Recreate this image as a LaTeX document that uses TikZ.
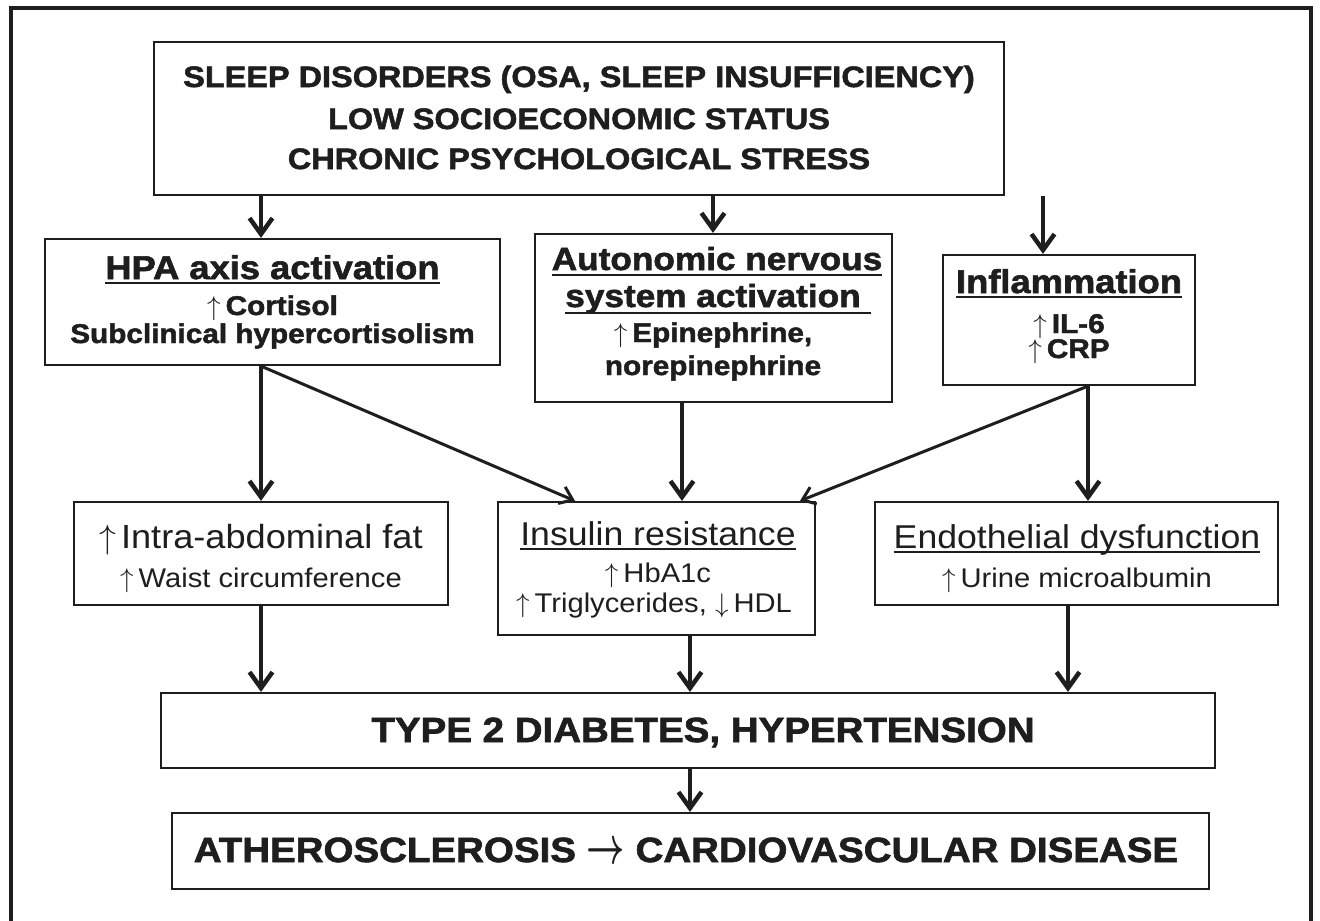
\documentclass[tikz,border=0pt]{standalone}
\usepackage{fix-cm}
\usepackage{graphicx}
\usepackage{fontspec}
\setmainfont{Liberation Sans}
\newfontfamily\hb[FakeStretch=1.1,FakeBold=1.8]{Liberation Sans}
\newfontfamily\hr[FakeStretch=1.08]{Liberation Sans}
\usetikzlibrary{arrows.meta}
\definecolor{ink}{RGB}{30,30,30}
\newcommand\fsz[1]{\fontsize{#1}{#1}\selectfont}
\newcommand\up{$\uparrow$\kern5pt}
\newcommand\dn{$\downarrow$\kern5pt}
\newcommand\ra{{\boldmath\raisebox{-1pt}{\scalebox{0.95}[1.5]{$\rightarrow$}}}}
\tikzset{
  box/.style={draw=ink, line width=2.2pt, inner sep=0pt, fill=none},
  txt/.style={anchor=base, inner sep=0pt, text=ink},
  bt/.style={txt, font=\hb\bfseries\fsz{#1}},
  rt/.style={txt, font=\hr\fsz{#1}},
  ul/.style={draw=ink, line width=2.2pt},
  varr/.style={draw=ink, line width=4.5pt, -{Straight Barb[length=16pt,width=23pt]}},
  darr/.style={draw=ink, line width=3pt, -{Straight Barb[length=12pt,width=18pt]}},
}
\begin{document}
\begin{tikzpicture}[x=1pt,y=-1pt]
\clip (0,0) rectangle (1320,921);
\fill[white] (0,0) rectangle (1320,921);
\draw[ink, line width=3.2pt] (11,8) rectangle (1311,960);

% boxes
\node[box, minimum width=850pt, minimum height=153pt] (top) at (579,118.5) {};
\node[box, minimum width=455pt, minimum height=126pt] (hpa) at (272.5,302) {};
\node[box, minimum width=357pt, minimum height=168pt] (ans) at (713.5,318) {};
\node[box, minimum width=252pt, minimum height=130pt] (infl) at (1069,320) {};
\node[box, minimum width=374pt, minimum height=103pt] (intra) at (261,553.5) {};
\node[box, minimum width=317pt, minimum height=133pt] (ins) at (656.5,568.5) {};
\node[box, minimum width=403pt, minimum height=103pt] (endo) at (1076.5,553.5) {};
\node[box, minimum width=1054pt, minimum height=75pt] (t2d) at (688,730.5) {};
\node[box, minimum width=1037pt, minimum height=76pt] (ath) at (690.5,851) {};

% top texts
\node[bt=29.5] (top1) at (579,87) {SLEEP DISORDERS (OSA, SLEEP INSUFFICIENCY)};
\node[bt=29.5] (top2) at (579,129) {LOW SOCIOECONOMIC STATUS};
\node[bt=29.5] (top3) at (579,169) {CHRONIC PSYCHOLOGICAL STRESS};

% HPA
\node[bt=33] (hpa1) at (272.5,279) {HPA axis activation};
\node[bt=27] (hpa2) at (272.5,315) {\up Cortisol};
\node[bt=27] (hpa3) at (272.5,343) {Subclinical hypercortisolism};
\draw[ul] ([yshift=-4pt]hpa1.base west) -- ([yshift=-4pt]hpa1.base east);

% ANS
\node[bt=32] (ans1) at (717,270) {Autonomic nervous};
\node[bt=32] (ans2) at (713,307) {system activation};
\node[bt=27] (ans3) at (713,342) {\up Epinephrine,};
\node[bt=27] (ans4) at (713,375) {norepinephrine};
\draw[ul] ([yshift=-5pt]ans1.base west) -- ([yshift=-5pt]ans1.base east);
\draw[ul] ([yshift=-6pt]ans2.base west) -- ([yshift=-6pt,xshift=10pt]ans2.base east);

% Inflammation
\node[bt=33] (inf1) at (1069,293) {Inflammation};
\node[bt=27] (inf2) at (1069,333) {\up IL-6};
\node[bt=27] (inf3) at (1069,358) {\up CRP};
\draw[ul] ([yshift=-4pt]inf1.base west) -- ([yshift=-4pt]inf1.base east);

% Intra-abdominal
\node[rt=33.5] (int1) at (261,548) {\up Intra-abdominal fat};
\node[rt=27] (int2) at (261,587) {\up Waist circumference};

% Insulin
\node[rt=33] (ins1) at (658,545) {Insulin resistance};
\node[rt=27] (ins2) at (658,582) {\up HbA1c};
\node[rt=27] (ins3) at (654,612) {\up Triglycerides, \dn HDL};
\draw[ul] ([yshift=-4pt]ins1.base west) -- ([yshift=-4pt]ins1.base east);

% Endothelial
\node[rt=33] (end1) at (1077,548) {Endothelial dysfunction};
\node[rt=27] (end2) at (1077,587) {\up Urine microalbumin};
\draw[ul] ([yshift=-4pt]end1.base west) -- ([yshift=-4pt]end1.base east);

% bottom
\node[bt=35] (t2dt) at (703,742) {TYPE 2 DIABETES, HYPERTENSION};
\node[bt=35] (atht) at (686,862) {ATHEROSCLEROSIS \ra\ CARDIOVASCULAR DISEASE};

% columns
\coordinate (xa) at (261,0);
\coordinate (xb) at (713,0);
\coordinate (xc) at (1043,0);
\coordinate (xd) at (682,0);
\coordinate (xe) at (1088,0);
\coordinate (xf) at (690,0);
\coordinate (xg) at (1068,0);
\coordinate (xh) at (575,0);
\coordinate (xi) at (800,0);

% arrows
\draw[varr] (top.south -| xa) -- (hpa.north -| xa);
\draw[varr] (top.south -| xb) -- (ans.north -| xb);
\draw[varr] (top.south -| xc) -- (infl.north -| xc);
\draw[varr] (hpa.south -| xa) -- (intra.north -| xa);
\draw[darr] (hpa.south -| xa) -- (ins.north -| xh);
\draw[varr] (ans.south -| xd) -- (ins.north -| xd);
\draw[varr] (infl.south -| xe) -- (endo.north -| xe);
\draw[darr] (infl.south -| xe) -- (ins.north -| xi);
\draw[varr] (intra.south -| xa) -- (t2d.north -| xa);
\draw[varr] (ins.south -| xf) -- (t2d.north -| xf);
\draw[varr] (endo.south -| xg) -- (t2d.north -| xg);
\draw[varr] (t2d.south -| xf) -- (ath.north -| xf);
\end{tikzpicture}
\end{document}
